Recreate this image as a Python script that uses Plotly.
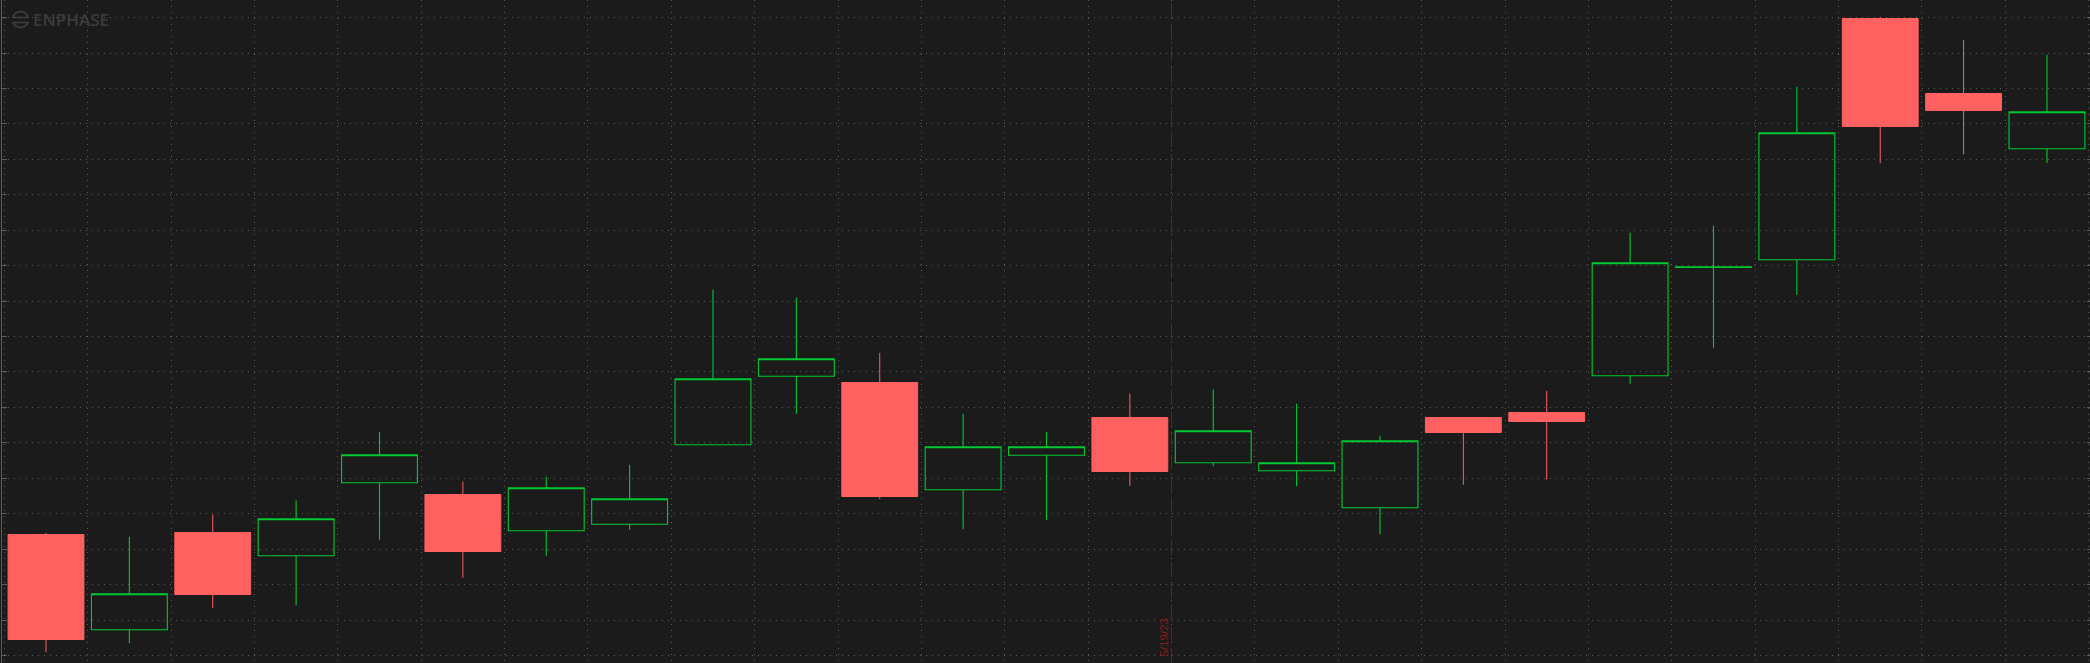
import plotly.graph_objects as go

# Price scale is unlabelled in the reference.
candle_index = list(range(25))
open_prices = [112.8, 103.27, 113.0, 110.67, 117.97, 116.8, 113.17, 113.83, 121.77, 128.63, 128.0, 117.27, 120.73,
               124.5, 119.97, 119.17, 115.47, 124.5, 125.0, 128.67, 139.5, 140.27, 164.4, 156.9, 151.37]
high_prices = [112.97, 112.57, 114.8, 116.2, 123.07, 118.1, 118.57, 119.77, 137.27, 136.47, 130.97, 124.87, 123.07,
               126.9, 127.3, 125.87, 122.67, 124.5, 127.17, 142.97, 143.67, 157.57, 164.57, 162.27, 160.77]
low_prices = [101.03, 101.93, 105.43, 105.73, 112.27, 108.47, 110.67, 113.27, 121.77, 124.87, 116.33, 113.33, 114.23,
              117.67, 119.63, 117.63, 112.83, 117.77, 118.27, 127.87, 131.47, 136.77, 149.93, 150.83, 149.97]
close_prices = [102.3, 106.87, 106.8, 114.37, 120.77, 111.1, 117.47, 116.37, 128.37, 130.37, 116.6, 121.57, 121.57,
                119.1, 123.17, 119.97, 122.17, 123.0, 124.1, 139.97, 139.58, 152.97, 153.6, 155.2, 155.07]
marker_index = 13.5
marker_label = "5/19/23"
logo_label = "ENPHASE"

BG = "#1b1b1b"
GRID = "#5c5c5c"
GREEN = "#00c832"
RED = "#ff6060"
LOGO = "#3c3c3c"
W, H = 2090, 663
price_range = [99.95, 166.25]
index_range = [-0.5277, 24.516]


def px_x(p):
    return (p - 2) / (W - 2)


def px_y(p):
    return 1 - p / H


fig = go.Figure()
fig.add_trace(go.Candlestick(
    x=candle_index, open=open_prices, high=high_prices, low=low_prices, close=close_prices,
    increasing=dict(line=dict(color=GREEN, width=1.1), fillcolor="rgba(0,0,0,0)"),
    decreasing=dict(line=dict(color=RED, width=1), fillcolor=RED),
    whiskerwidth=0, showlegend=False, hoverinfo="skip",
))
fig.add_trace(go.Scatter(x=[None], y=[None], yaxis="y2", showlegend=False, hoverinfo="skip"))

axis_y = dict(range=price_range, tick0=100.7, dtick=3.544, showticklabels=False, zeroline=False,
              ticklen=5, tickcolor=GRID, tickwidth=1)
logo_shapes = [
    dict(type="circle", xref="paper", yref="paper", layer="below",
         x0=px_x(12.5), x1=px_x(28.5), y0=px_y(27.5), y1=px_y(11.5),
         line=dict(color=LOGO, width=2), fillcolor="rgba(0,0,0,0)"),
    dict(type="rect", xref="paper", yref="paper", layer="below",
         x0=px_x(10), x1=px_x(31), y0=px_y(22), y1=px_y(18),
         line=dict(width=0), fillcolor=BG),
    dict(type="line", xref="paper", yref="paper", layer="below",
         x0=px_x(12), x1=px_x(29), y0=px_y(17.5), y1=px_y(17.5), line=dict(color=LOGO, width=1.5)),
    dict(type="line", xref="paper", yref="paper", layer="below",
         x0=px_x(13), x1=px_x(28), y0=px_y(22.5), y1=px_y(22.5), line=dict(color=LOGO, width=1.5)),
]
fig.update_layout(
    width=W, height=H, margin=dict(l=2, r=0, t=0, b=0),
    paper_bgcolor=BG, plot_bgcolor=BG, boxgap=0.09, boxgroupgap=0, showlegend=False,
    xaxis=dict(range=index_range, tick0=0.5, dtick=1, showgrid=True, gridcolor=GRID, griddash="1px,5px",
               gridwidth=1, showticklabels=False, ticks="", zeroline=False, showline=False,
               rangeslider=dict(visible=False)),
    yaxis=dict(showgrid=True, gridcolor=GRID, griddash="1px,5px", gridwidth=1, ticks="inside",
               showline=True, linecolor=GRID, linewidth=1, **axis_y),
    yaxis2=dict(overlaying="y", side="right", showgrid=False, ticks="inside", showline=False,
                **{**axis_y, "ticklen": 3}),
    shapes=logo_shapes + [
        dict(type="line", xref="x", yref="paper", x0=marker_index, x1=marker_index, y0=0, y1=1,
             line=dict(color="#801818", width=1, dash="15px,6.5px")),
    ],
    annotations=[
        dict(text=marker_label, xref="x", yref="paper", x=marker_index, y=0.006, xanchor="right", yanchor="bottom",
             xshift=0, textangle=-90, showarrow=False, font=dict(family="Liberation Sans", size=11.5, color="#8a1a1a")),
        dict(text=logo_label, xref="paper", yref="paper", x=px_x(31), y=px_y(19.5), xanchor="left", yanchor="middle",
             showarrow=False, font=dict(family="Open Sans", size=17, weight=600, color=LOGO)),
    ],
)
fig.write_html("out.html", config=dict(displayModeBar=False),
               post_script="document.body.style.margin='0';document.body.style.overflow='hidden';")
